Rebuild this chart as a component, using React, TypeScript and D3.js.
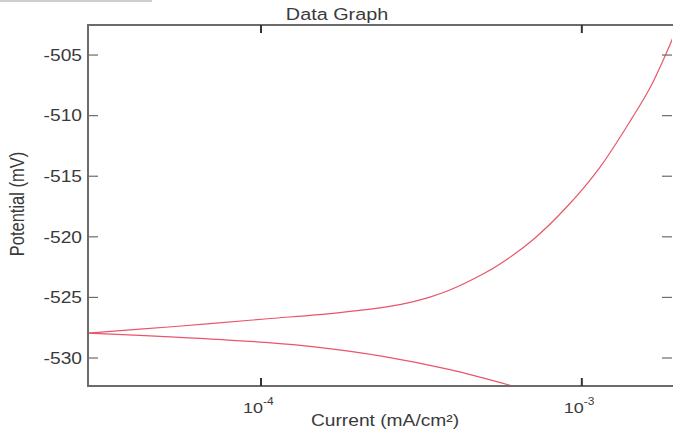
import React, { useEffect, useRef } from 'react'
import * as d3 from 'd3'

// anodic branch (current mA/cm², potential mV)
const anodicCurrent = [2.89e-5, 5.4e-5, 1.03e-4, 1.76e-4, 2.71e-4, 3.36e-4, 3.88e-4, 4.92e-4, 5.56e-4, 7.03e-4, 8.97e-4, 1.14e-3, 1.44e-3, 1.63e-3, 1.84e-3, 1.96e-3]
const anodicPotential = [-527.94, -527.4, -526.78, -526.25, -525.59, -524.97, -524.39, -523.07, -522.24, -520.26, -517.54, -514.24, -510.12, -507.72, -504.75, -503.02]

// cathodic branch
const cathodicCurrent = [2.89e-5, 5.4e-5, 1.03e-4, 1.49e-4, 2.4e-4, 3.88e-4, 6.05e-4, 6.89e-4]
const cathodicPotential = [-527.94, -528.27, -528.71, -529.1, -529.86, -530.96, -532.29, -532.72]

const xTicks = [1e-4, 1e-3]
const xTickExp = ['-4', '-3']
const yTicks = [-505, -510, -515, -520, -525, -530]

const W = 673
const H = 436
const margin = { top: 25, right: 1, bottom: 50, left: 88 }
const FONT = '"Liberation Sans", Arial, sans-serif'
const STRETCH = 1.2

export default function App() {
  const ref = useRef<SVGGElement>(null)
  const w = W - margin.left - margin.right
  const h = H - margin.top - margin.bottom

  useEffect(() => {
    const g = d3.select(ref.current)
    g.selectAll('*').remove()

    const x = d3.scaleLog().domain([2.89e-5, 1.91e-3]).range([0, w])
    const y = d3.scaleLinear().domain([-532.31, -502.52]).range([h, 0])

    // text that is a bit wider than tall, like the source image
    const label = (px: number, py: number, size: number, anchor: string) =>
      g.append('text')
        .attr('transform', `translate(${px},${py}) scale(${STRETCH},1)`)
        .attr('text-anchor', anchor)
        .attr('font-family', FONT).attr('font-size', size).attr('fill', '#3a3a3a')

    g.append('clipPath').attr('id', 'plot-clip')
      .append('rect').attr('width', w).attr('height', h)

    const line = d3.line<[number, number]>()
      .x(d => x(d[0]))
      .y(d => y(d[1]))
      .curve(d3.curveCatmullRom.alpha(0.5))

    const anodic = anodicCurrent.map((c, i) => [c, anodicPotential[i]] as [number, number])
    const cathodic = cathodicCurrent.map((c, i) => [c, cathodicPotential[i]] as [number, number])

    const curves = g.append('g').attr('clip-path', 'url(#plot-clip)')
    ;[anodic, cathodic].forEach(d => {
      curves.append('path')
        .datum(d)
        .attr('d', line)
        .attr('fill', 'none')
        .attr('stroke', '#e8566a')
        .attr('stroke-width', 1.2)
    })

    const axisCol = '#6b6b6b'
    // frame: left, bottom, top
    g.append('path')
      .attr('d', `M${w + 2},0H0V${h}H${w + 2}`)
      .attr('fill', 'none')
      .attr('stroke', axisCol)
      .attr('stroke-width', 2)

    // y ticks (inside, both sides)
    yTicks.forEach(t => {
      g.append('line').attr('x1', 0).attr('x2', 10).attr('y1', y(t)).attr('y2', y(t))
        .attr('stroke', axisCol).attr('stroke-width', 1.2)
      g.append('line').attr('x1', w - 10).attr('x2', w).attr('y1', y(t)).attr('y2', y(t))
        .attr('stroke', axisCol).attr('stroke-width', 1.2)
      label(-6, y(t) + 5.8, 16, 'end').text(t)
    })

    // x ticks (inside, top and bottom)
    xTicks.forEach((t, i) => {
      g.append('line').attr('x1', x(t)).attr('x2', x(t)).attr('y1', h).attr('y2', h - 8)
        .attr('stroke', '#333').attr('stroke-width', 2)
      g.append('line').attr('x1', x(t)).attr('x2', x(t)).attr('y1', 0).attr('y2', 8)
        .attr('stroke', '#333').attr('stroke-width', 2)
      const lab = label(x(t) - 18, h + 27, 15, 'start')
      lab.append('tspan').text('10')
      lab.append('tspan').attr('dy', -8).attr('font-size', 10).text(xTickExp[i])
    })

    // titles
    label(337 - margin.left, -5, 16.5, 'middle').text('Data Graph')
    label(385 - margin.left, h + 40, 16, 'middle').text('Current (mA/cm²)')
    g.append('text')
      .attr('transform', `translate(${24 - margin.left},${204 - margin.top}) rotate(-90) scale(1,${STRETCH})`)
      .attr('text-anchor', 'middle')
      .attr('font-family', FONT).attr('font-size', 16.5).attr('fill', '#3a3a3a')
      .text('Potential (mV)')
  }, [])

  return (
    <svg width={W} height={H} style={{ position: 'absolute', left: 0, top: 0, background: '#fff' }}>
      <rect x={0} y={0} width={152} height={2} fill="#cfcfcf" />
      <g ref={ref} transform={`translate(${margin.left},${margin.top})`} />
    </svg>
  )
}
